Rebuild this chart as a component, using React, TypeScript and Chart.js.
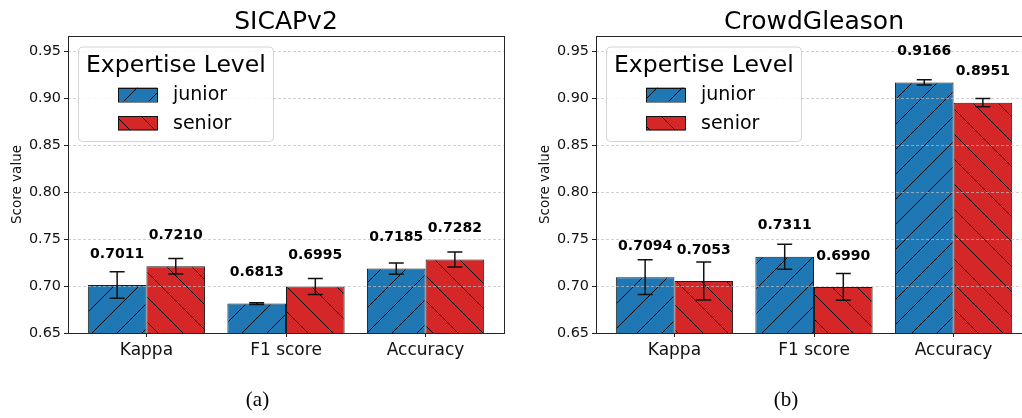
import React, { useEffect, useRef } from "react";
import { Chart, registerables } from "chart.js";

Chart.register(...registerables);

// ---------- data ----------
const CATEGORIES = ["Kappa", "F1 score", "Accuracy"];
const SERIES_LABELS = ["junior", "senior"];
const LEGEND_TITLE = "Expertise Level";
const Y_TICKS = [0.65, 0.7, 0.75, 0.8, 0.85, 0.9, 0.95];
const Y_MIN = 0.65;
const Y_MAX = 0.966;

const SICAP_JUNIOR = [0.7011, 0.6813, 0.7185];
const SICAP_SENIOR = [0.721, 0.6995, 0.7282];
const SICAP_JUNIOR_ERR = [0.0142, 0.001, 0.006];
const SICAP_SENIOR_ERR = [0.0083, 0.0085, 0.008];

const CROWD_JUNIOR = [0.7094, 0.7311, 0.9166];
const CROWD_SENIOR = [0.7053, 0.699, 0.8951];
const CROWD_JUNIOR_ERR = [0.0185, 0.0133, 0.0028];
const CROWD_SENIOR_ERR = [0.0202, 0.0142, 0.0043];

// ---------- style ----------
const FONT = "'DejaVu Sans', sans-serif";
const BLUE = "#1f77b4";
const RED = "#d62728";
const GROUP_WIDTH = 0.84; // two bars of 0.42
const X_MARGIN = 0.05 * (CATEGORIES.length - 1 + GROUP_WIDTH);
const X_MIN = -GROUP_WIDTH / 2 - X_MARGIN;
const X_MAX = CATEGORIES.length - 1 + GROUP_WIDTH / 2 + X_MARGIN;
const LABEL_OFFSET = 0.033;

function makeHatch(color: string, forward: boolean): CanvasPattern | string {
  const s = 25;
  const c = document.createElement("canvas");
  c.width = s;
  c.height = s;
  const g = c.getContext("2d");
  if (!g) return color;
  g.fillStyle = color;
  g.fillRect(0, 0, s, s);
  g.strokeStyle = "#000";
  g.lineWidth = 1;
  g.beginPath();
  if (forward) {
    g.moveTo(-2, s + 2);
    g.lineTo(s + 2, -2);
    g.moveTo(-2, 2);
    g.lineTo(2, -2);
    g.moveTo(s - 2, s + 2);
    g.lineTo(s + 2, s - 2);
  } else {
    g.moveTo(-2, -2);
    g.lineTo(s + 2, s + 2);
    g.moveTo(s - 2, -2);
    g.lineTo(s + 2, 2);
    g.moveTo(-2, s - 2);
    g.lineTo(2, s + 2);
  }
  g.stroke();
  const p = g.createPattern(c, "repeat");
  return p || color;
}

type PanelProps = {
  title: string;
  caption: string;
  junior: number[];
  senior: number[];
  juniorErr: number[];
  seniorErr: number[];
  left: number;
  width: number;
  axisWidth: number;
  plotRight: number;
  captionX: number;
};

function Panel(props: PanelProps) {
  const ref = useRef<HTMLCanvasElement | null>(null);

  useEffect(() => {
    const canvas = ref.current;
    if (!canvas) return;
    const bluePat = makeHatch(BLUE, true);
    const redPat = makeHatch(RED, false);
    const errs = [props.juniorErr, props.senior ? props.seniorErr : []];
    const values = [props.junior, props.senior];

    const decor = {
      id: "decor",
      afterDraw(chart: any) {
        const ctx = chart.ctx as CanvasRenderingContext2D;
        const ca = chart.chartArea;
        const ys = chart.scales.y;
        ctx.save();

        // spines
        ctx.strokeStyle = "#262626";
        ctx.lineWidth = 1;
        ctx.strokeRect(
          Math.round(ca.left) + 0.5,
          Math.round(ca.top) + 0.5,
          Math.round(ca.right) - Math.round(ca.left),
          Math.round(ca.bottom) - Math.round(ca.top)
        );

        // error bars and value labels
        for (let d = 0; d < values.length; d++) {
          const meta = chart.getDatasetMeta(d);
          for (let i = 0; i < values[d].length; i++) {
            const bar = meta.data[i];
            const v = values[d][i];
            const e = errs[d][i];
            const x = bar.x;
            const yt = ys.getPixelForValue(v + e);
            const yb = ys.getPixelForValue(v - e);
            ctx.strokeStyle = "#111";
            ctx.lineWidth = 1.5;
            ctx.beginPath();
            ctx.moveTo(x, yt);
            ctx.lineTo(x, yb);
            ctx.moveTo(x - 7.5, yt);
            ctx.lineTo(x + 7.5, yt);
            ctx.moveTo(x - 7.5, yb);
            ctx.lineTo(x + 7.5, yb);
            ctx.stroke();

            ctx.fillStyle = "#000";
            ctx.font = `bold 14px ${FONT}`;
            ctx.textAlign = "center";
            ctx.textBaseline = "middle";
            ctx.fillText(v.toFixed(4), x, ys.getPixelForValue(v + LABEL_OFFSET));
          }
        }

        // legend
        const lx = ca.left + 10;
        const ly = 46.5;
        const lw = 195;
        const lh = 94.5;
        ctx.fillStyle = "rgba(255,255,255,0.85)";
        ctx.strokeStyle = "#d4d4d4";
        ctx.lineWidth = 1;
        ctx.beginPath();
        (ctx as any).roundRect(Math.round(lx) + 0.5, ly + 0.5, lw, lh, 4);
        ctx.fill();
        ctx.stroke();
        ctx.fillStyle = "#000";
        ctx.textAlign = "left";
        ctx.textBaseline = "middle";
        ctx.font = `23.5px ${FONT}`;
        ctx.fillText(LEGEND_TITLE, ca.left + 18, 66);
        const ds = chart.data.datasets;
        for (let k = 0; k < ds.length; k++) {
          const py = 87.5 + k * 28.7;
          ctx.fillStyle = ds[k].backgroundColor;
          ctx.fillRect(ca.left + 50, py, 39.5, 14);
          ctx.strokeStyle = "#111";
          ctx.lineWidth = 1;
          ctx.strokeRect(Math.round(ca.left + 50) + 0.5, Math.round(py) + 0.5, 39, 13.5);
          ctx.fillStyle = "#000";
          ctx.font = `19px ${FONT}`;
          ctx.fillText(ds[k].label, ca.left + 105, py + 7.5);
        }

        // title
        ctx.font = `25px ${FONT}`;
        ctx.textAlign = "center";
        ctx.fillText(props.title, (ca.left + ca.right) / 2, 22);

        // caption
        ctx.font = `21px 'Liberation Serif', serif`;
        ctx.fillText(props.caption, props.captionX, 400);
        ctx.restore();
      },
    };

    const chart = new Chart(canvas, {
      type: "bar",
      data: {
        datasets: [
          {
            label: SERIES_LABELS[0],
            data: CATEGORIES.map((_, i) => ({ x: i, y: props.junior[i] })),
            backgroundColor: bluePat as any,
            borderColor: "#1a1a1a",
            borderWidth: 1,
            categoryPercentage: GROUP_WIDTH,
            barPercentage: 1,
          },
          {
            label: SERIES_LABELS[1],
            data: CATEGORIES.map((_, i) => ({ x: i, y: props.senior[i] })),
            backgroundColor: redPat as any,
            borderColor: "#1a1a1a",
            borderWidth: 1,
            categoryPercentage: GROUP_WIDTH,
            barPercentage: 1,
          },
        ],
      },
      options: {
        animation: false,
        responsive: false,
        devicePixelRatio: 1,
        layout: {
          padding: { top: 36, right: props.width - props.plotRight, bottom: 0, left: 0 },
        },
        plugins: {
          legend: { display: false },
          tooltip: { enabled: false },
          title: { display: false },
        },
        scales: {
          x: {
            type: "linear",
            min: X_MIN,
            max: X_MAX,
            offset: false,
            afterBuildTicks: (s: any) => {
              s.ticks = CATEGORIES.map((_, i) => ({ value: i }));
            },
            afterFit: (s: any) => {
              s.height = 85;
            },
            grid: {
              display: true,
              offset: false,
              drawOnChartArea: false,
              drawTicks: true,
              tickLength: 4,
              tickColor: "#222",
              tickWidth: 1,
            },
            border: { display: false },
            ticks: {
              autoSkip: false,
              maxRotation: 0,
              padding: 3,
              color: "#111",
              font: { family: FONT, size: 17 },
              callback: (v: any) => CATEGORIES[Math.round(Number(v))] ?? "",
            },
          } as any,
          y: {
            type: "linear",
            min: Y_MIN,
            max: Y_MAX,
            beginAtZero: false,
            afterBuildTicks: (s: any) => {
              s.ticks = Y_TICKS.map((v) => ({ value: v }));
            },
            afterFit: (s: any) => {
              s.width = props.axisWidth;
            },
            grid: {
              display: true,
              z: 1,
              color: "rgba(190,190,190,0.7)",
              lineWidth: 1,
              drawTicks: true,
              tickLength: 4,
              tickColor: "#222",
              tickWidth: 1,
              tickBorderDash: [],
            },
            border: { display: false, dash: [3, 2] },
            title: {
              display: true,
              text: "Score value",
              color: "#111",
              font: { family: FONT, size: 13.5 },
              padding: { top: props.axisWidth - 51 - 8.1, bottom: 0 },
            },
            ticks: {
              padding: 3,
              color: "#111",
              font: { family: FONT, size: 14.4 },
              callback: (v: any) => Number(v).toFixed(2),
            },
          } as any,
        },
      },
      plugins: [decor],
    });
    return () => chart.destroy();
  }, []);

  return (
    <canvas
      ref={ref}
      width={props.width}
      height={418}
      style={{ position: "absolute", left: props.left, top: 0, width: props.width, height: 418 }}
    />
  );
}

export default function App() {
  return (
    <div
      style={{
        position: "fixed",
        left: 0,
        top: 0,
        width: 1022,
        height: 418,
        overflow: "hidden",
        background: "#fff",
      }}
    >
      <Panel
        title="SICAPv2"
        caption="(a)"
        junior={SICAP_JUNIOR}
        senior={SICAP_SENIOR}
        juniorErr={SICAP_JUNIOR_ERR}
        seniorErr={SICAP_SENIOR_ERR}
        left={0}
        width={520}
        axisWidth={68}
        plotRight={504}
        captionX={257.5}
      />
      <Panel
        title="CrowdGleason"
        caption="(b)"
        junior={CROWD_JUNIOR}
        senior={CROWD_SENIOR}
        juniorErr={CROWD_JUNIOR_ERR}
        seniorErr={CROWD_SENIOR_ERR}
        left={520}
        width={520}
        axisWidth={76}
        plotRight={512}
        captionX={266}
      />
    </div>
  );
}
